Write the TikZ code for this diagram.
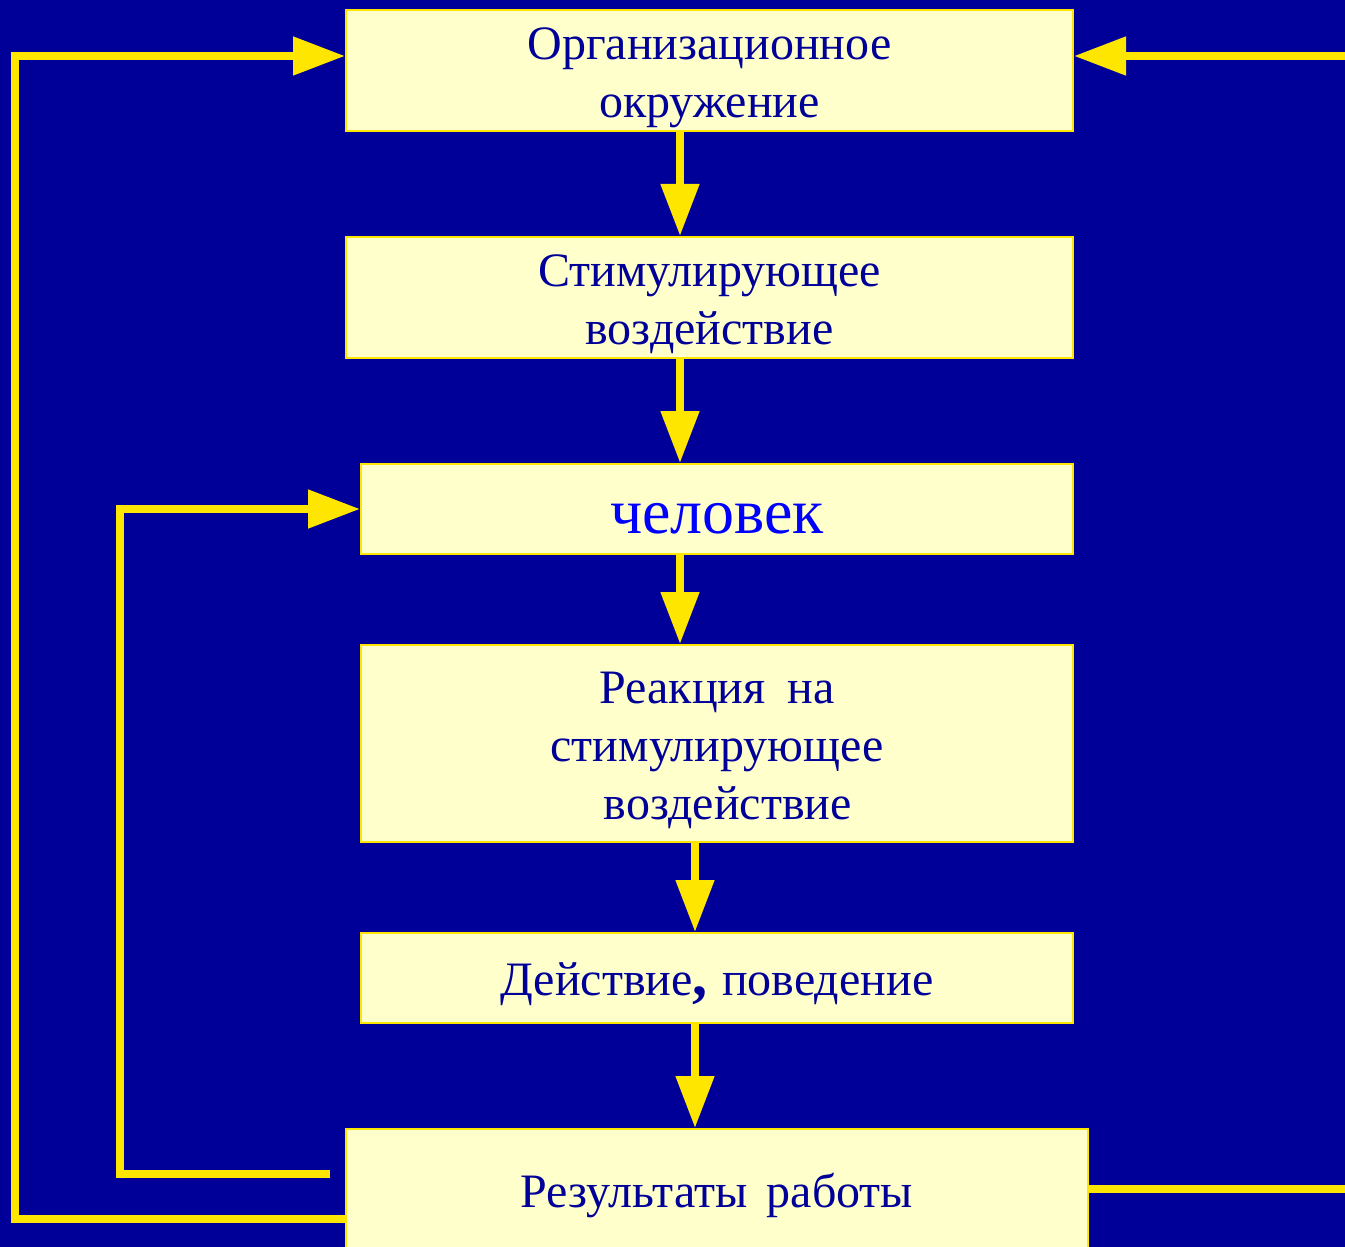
\documentclass[tikz,border=0pt]{standalone}
\usepackage{fontspec}
\setmainfont{Liberation Serif}
\usetikzlibrary{arrows.meta}
\definecolor{bg}{RGB}{0,0,153}
\definecolor{boxfill}{RGB}{255,255,204}
\definecolor{ylw}{RGB}{255,230,0}
\definecolor{txt}{RGB}{0,0,153}
\definecolor{manblue}{RGB}{0,0,255}
\begin{document}
\begin{tikzpicture}[x=0.5pt,y=-0.5pt,
  box/.style={draw=ylw,line width=1pt,fill=boxfill,inner sep=0pt},
  lbl/.style={text=txt,inner sep=0pt,align=center,font=\fontsize{24}{29}\selectfont},
  link/.style={draw=ylw,line width=4pt,line join=miter},
  arr/.style={link,-{Triangle[length=26pt,width=18.5pt]}}]
\clip (0,0) rectangle (1345,1247);
\fill[bg] (0,0) rectangle (1345,1247);
\node[box,minimum width=363.5pt,minimum height=60.5pt] (b1) at (709.5,70.5) {};
\node[box,minimum width=363.5pt,minimum height=60.5pt] (b2) at (709.5,297.5) {};
\node[box,minimum width=356pt,minimum height=45pt] (b3) at (717,509) {};
\node[box,minimum width=356pt,minimum height=98.5pt] (b4) at (717,743.5) {};
\node[box,minimum width=356pt,minimum height=45pt] (b5) at (717,978) {};
\node[box,minimum width=371pt,minimum height=63.5pt] (b6) at (717,1192.5) {};
\node[lbl,yshift=-3.5pt] (t1) at (b1.center) {Организационное\\окружение};
\node[lbl,yshift=-3.5pt] (t2) at (b2.center) {Стимулирующее\\воздействие};
\node[lbl,yshift=-5pt,text=manblue,font=\fontsize{32}{36}\selectfont] (t3) at (b3.center) {человек};
\node[lbl,yshift=-3.5pt] (t4) at (b4.center) {Реакция\hspace{0.45em}на\\стимулирующее\\\hspace{0.45em}воздействие};
\node[lbl,yshift=-3pt] (t5) at (b5.center) {Действие{\bfseries\fontsize{30}{29}\selectfont,}\hspace{0.3em}поведение};
\node[lbl,yshift=-1.5pt] (t6) at (b6.center) {Результаты\hspace{0.4em}работы};
% coordinates
\coordinate (xa) at (680,0);
\coordinate (xb) at (695,0);
\coordinate (yTop) at (0,56);
\coordinate (lx) at (15,0);
\coordinate (ly) at (0,1219);
\coordinate (ix) at (120,0);
\coordinate (iy) at (0,1174);
\coordinate (ifree) at (330,1174);
\coordinate (redge) at (1360,56);
\coordinate (redge2) at (1360,1189);
\coordinate (ry) at (0,1189);
% vertical arrows
\draw[arr] (b1.south -| xa) -- (b2.north -| xa);
\draw[arr] (b2.south -| xa) -- (b3.north -| xa);
\draw[arr] (b3.south -| xa) -- (b4.north -| xa);
\draw[arr] (b4.south -| xb) -- (b5.north -| xb);
\draw[arr] (b5.south -| xb) -- (b6.north -| xb);
% outer left loop
\draw[arr] (b6.west |- ly) -- (lx |- ly) -- (lx |- yTop) -- (b1.west |- yTop);
% inner loop
\draw[arr] (ifree) -- (ix |- iy) -- (ix |- b3.west) -- (b3.west);
% right
\draw[arr] (redge) -- (b1.east |- redge);
\draw[link] (b6.east |- ry) -- (redge2);
\end{tikzpicture}
\end{document}
